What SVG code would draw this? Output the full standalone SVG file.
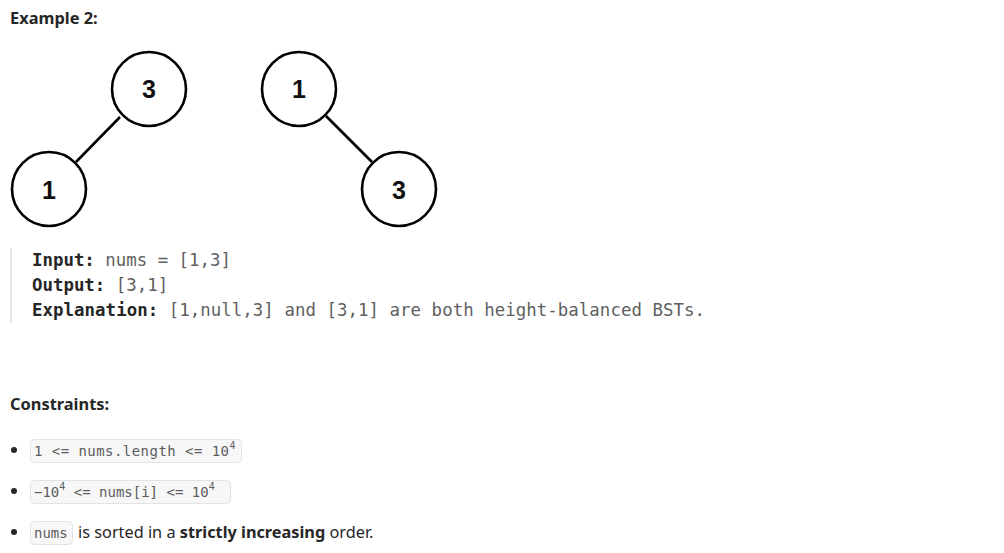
<svg xmlns="http://www.w3.org/2000/svg" width="1004" height="553" viewBox="0 0 1004 553">
<style>
.node{fill:#fff;stroke:#000;stroke-width:2.6}
.nt{font-family:"Liberation Sans",Arial,sans-serif;font-weight:bold;font-size:25px;fill:#111;text-anchor:middle}
.edge{stroke:#000;stroke-width:2.6}
.h{font-family:"Noto Sans","Open Sans",sans-serif;font-weight:bold;font-size:16.4px;fill:#262626}
.code{font-family:"DejaVu Sans Mono",monospace;font-size:17.4px;fill:#5f5f5f}
.lbl{font-weight:bold;fill:#262626}
.body{font-family:"Noto Sans","Open Sans",sans-serif;font-size:16.3px;fill:#262626}
.chip{fill:#f7f7f8;stroke:#e3e3e3;stroke-width:1}
.ct{font-family:"DejaVu Sans Mono",monospace;font-size:14px;fill:#5c5c5c}
.sup{font-size:10px}
</style>
<rect width="1004" height="553" fill="#fff"/>
<text class="h" x="10" y="24">Example 2:</text>
<g id="edges">
<line class="edge" x1="120" y1="117" x2="76" y2="162"/>
<line class="edge" x1="326" y1="116" x2="372" y2="162"/>
</g>
<g id="n3a"><circle class="node" cx="149" cy="89" r="37"/><text class="nt" x="149" y="98">3</text></g>
<g id="n1a"><circle class="node" cx="49" cy="189" r="37"/><text class="nt" x="49" y="199">1</text></g>
<g id="n1b"><circle class="node" cx="299" cy="89" r="37"/><text class="nt" x="299" y="98">1</text></g>
<g id="n3b"><circle class="node" cx="399" cy="189" r="37"/><text class="nt" x="399" y="199">3</text></g>
<rect x="10" y="248" width="2" height="75" fill="#e5e5e5"/>
<text class="code" x="32" y="266"><tspan class="lbl">Input:</tspan> nums = [1,3]</text>
<text class="code" x="32" y="291"><tspan class="lbl">Output:</tspan> [3,1]</text>
<text class="code" x="32" y="316" textLength="673" lengthAdjust="spacing"><tspan class="lbl">Explanation:</tspan> [1,null,3] and [3,1] are both height-balanced BSTs.</text>
<text class="h" x="10" y="410">Constraints:</text>
<circle cx="14" cy="450" r="3" fill="#262626"/>
<circle cx="14" cy="491" r="3" fill="#262626"/>
<circle cx="14" cy="532" r="3" fill="#262626"/>
<rect class="chip" x="30.5" y="439.5" width="211" height="23" rx="4"/>
<text class="ct" x="34" y="456"><tspan textLength="195" lengthAdjust="spacing">1 &lt;= nums.length &lt;= 10</tspan><tspan class="sup" dy="-7">4</tspan></text>
<rect class="chip" x="30.5" y="480.5" width="200" height="23" rx="4"/>
<text class="ct" x="34" y="497">−10<tspan class="sup" dy="-7">4</tspan><tspan dy="7"> &lt;= nums[i] &lt;= 10</tspan><tspan class="sup" dy="-7">4</tspan></text>
<rect class="chip" x="30.5" y="521.5" width="42" height="23" rx="4"/>
<text class="ct" x="34" y="538" font-size="13">nums</text>
<text class="body" x="78" y="538">is sorted in a <tspan font-weight="bold">strictly increasing</tspan> order.</text>
</svg>
